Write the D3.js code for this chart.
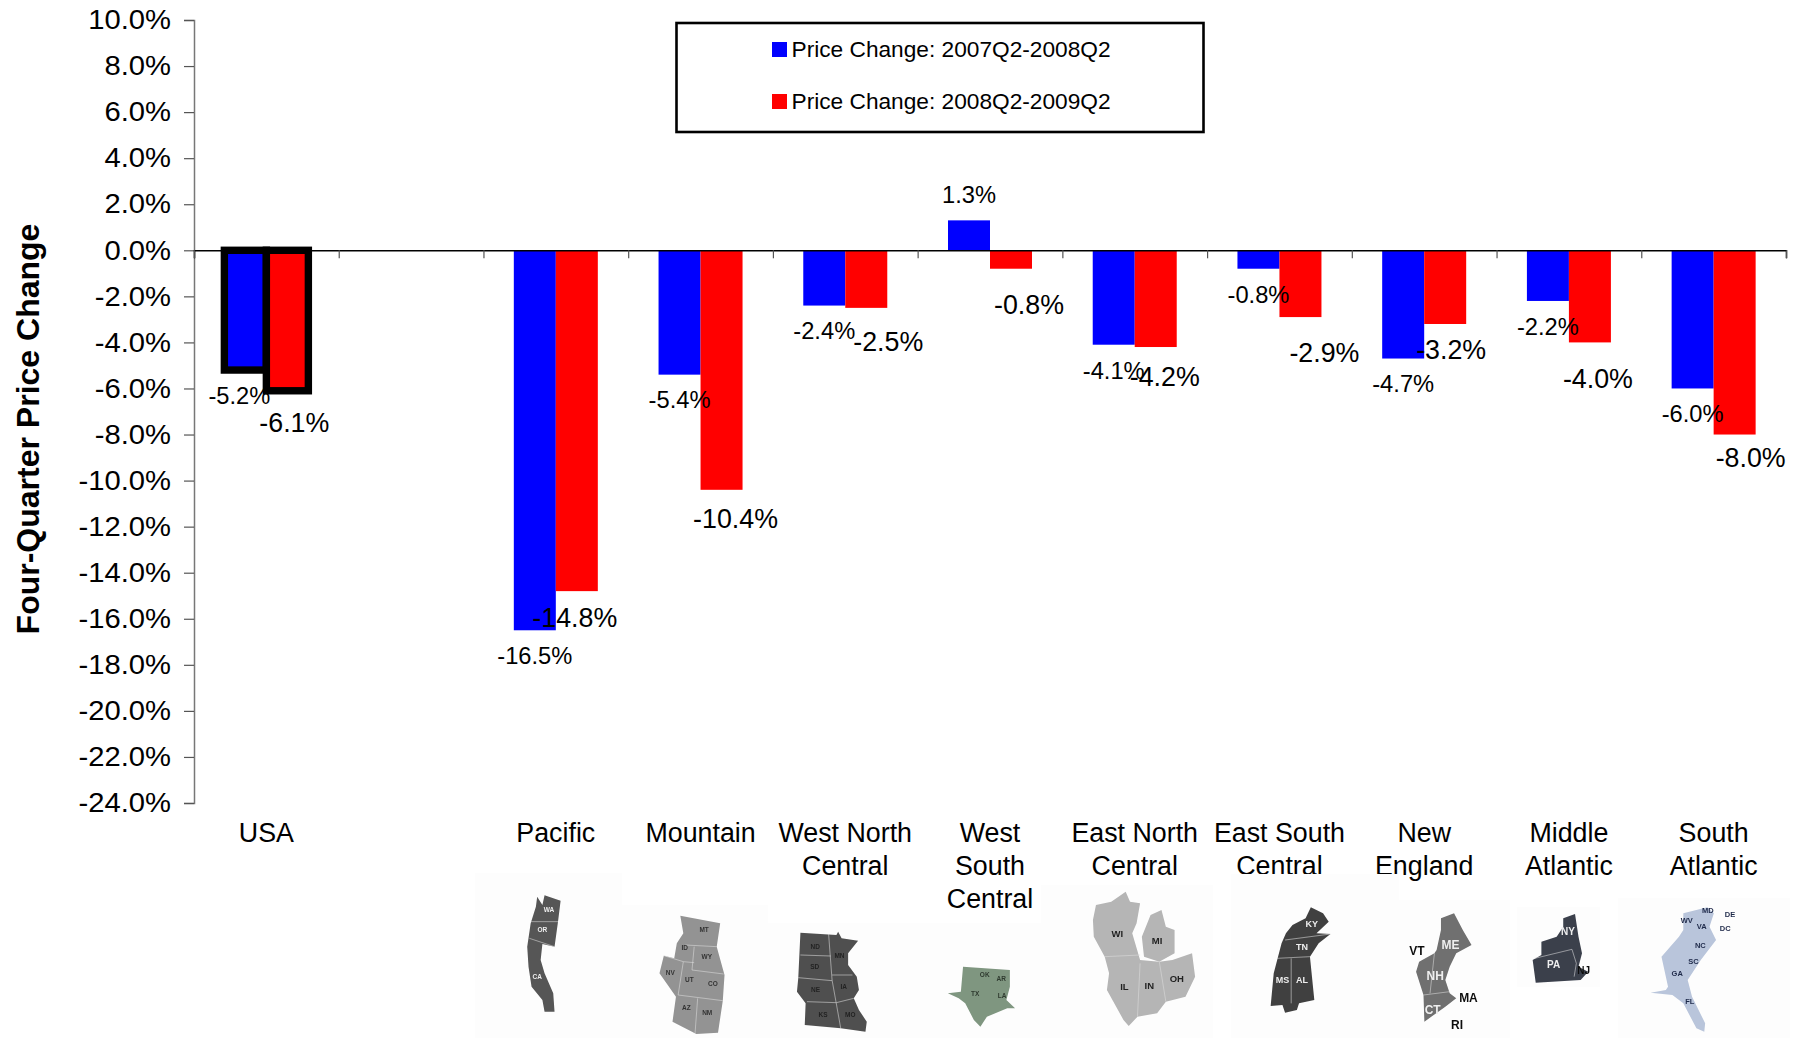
<!DOCTYPE html>
<html>
<head>
<meta charset="utf-8">
<title>Four-Quarter Price Change</title>
<script src="https://cdn.jsdelivr.net/npm/d3@7"></script>
<style>
  html, body { margin: 0; padding: 0; background: #fff; }
  svg { display: block; font-family: "Liberation Sans", Arial, sans-serif; }
</style>
</head>
<body>
<svg id="chart" width="1801" height="1038"></svg>
<script>
// chart values
var regions = ["USA", "", "Pacific", "Mountain", "West North Central", "West South Central",
  "East North Central", "East South Central", "New England", "Middle Atlantic", "South Atlantic"]
var regionLines = [["USA"], [], ["Pacific"], ["Mountain"], ["West North", "Central"], ["West", "South", "Central"],
  ["East North", "Central"], ["East South", "Central"], ["New", "England"], ["Middle", "Atlantic"], ["South", "Atlantic"]]
var change0708 = [-5.2, null, -16.5, -5.4, -2.4, 1.3, -4.1, -0.8, -4.7, -2.2, -6.0]
var change0809 = [-6.1, null, -14.8, -10.4, -2.5, -0.8, -4.2, -2.9, -3.2, -4.0, -8.0]
var seriesNames = ["Price Change: 2007Q2-2008Q2", "Price Change: 2008Q2-2009Q2"]
var seriesColors = ["#0000ff", "#ff0000"]
var yTicks = d3.range(-24, 10.1, 2)

// hand nudges for the data labels, same order as regions
var blueNudge = [-6, 0, 0, 0, 0, 0, 0, 0, 0, 0, 0]
var redNudge = [[7, 32], [0, 0], [-2, 26], [14, 29], [22, 34], [18, 36], [9, 30], [24, 36], [6, 26], [8, 36], [16, 23]]

var dimensions = {
  width: 1801,
  height: 1038,
  left: 194,
  right: 1786,
  top: 20,
  bottom: 803
}

var pct = v => v.toFixed(1) + "%"

var svg = d3.select("#chart")

var xSlots = d3.scaleLinear().domain([0, 11]).range([dimensions.left, dimensions.right])
var xBand = d3.scaleBand().domain(d3.range(regions.length)).range([dimensions.left, dimensions.right])
var yScale = d3.scaleLinear().domain([10, -24]).range([dimensions.top, dimensions.bottom])
var barW = 42

var tableRows = regions.map((r, i) => ({ i: i, region: r, a: change0708[i], b: change0809[i] }))
  .filter(d => d.a !== null)

// faint image backgrounds behind each little map
var mapPanels = [
  [475, 873, 147, 165], [622, 905, 146, 133], [767, 923, 145, 115], [911, 923, 130, 115],
  [1041, 885, 172, 153], [1231, 874, 168, 164], [1399, 900, 111, 138], [1517, 907, 83, 80], [1618, 898, 172, 140]
]

// y axis
var yAxisGen = d3.axisLeft(yScale).tickValues(yTicks).tickSize(10).tickPadding(14)
  .tickFormat(pct)
var yAxis = svg.append("g")
  .attr("transform", `translate(${dimensions.left},0)`)
  .call(yAxisGen)
yAxis.select(".domain").attr("stroke", "#777").attr("stroke-width", 1.5)
yAxis.selectAll(".tick line").attr("stroke", "#555").attr("stroke-width", 1.2)
// the original tick text is a bit wider than it is tall
yAxis.selectAll("text")
  .attr("font-size", 27.3)
  .attr("fill", "#000")
  .attr("font-family", "Liberation Sans")
  .attr("x", -23 / 1.07)
  .attr("transform", "scale(1.07,1)")

svg.append("text")
  .attr("transform", "translate(38.5,429) rotate(-90)")
  .attr("text-anchor", "middle")
  .attr("font-size", 32)
  .attr("font-weight", "bold")
  .text("Four-Quarter Price Change")

// bars
var barGroup = svg.append("g")
var drawBars = function (acc, color, off) {
  barGroup.append("g")
    .selectAll("rect")
    .data(tableRows)
    .enter()
    .append("rect")
    .attr("x", d => xBand(d.i) + xBand.bandwidth() / 2 + off)
    .attr("y", d => yScale(Math.max(0, acc(d))))
    .attr("width", barW)
    .attr("height", d => Math.abs(yScale(acc(d)) - yScale(0)))
    .attr("fill", color)
    .attr("stroke", d => d.region === "USA" ? "#000" : "none")
    .attr("stroke-width", 7.4)
}
drawBars(d => d.a, seriesColors[0], -barW)
drawBars(d => d.b, seriesColors[1], 0)

// zero line with the slot ticks under it
var xAxisGen = d3.axisBottom(xSlots).tickValues(d3.range(0, 12)).tickSize(8).tickFormat("")
var xAxis = svg.append("g")
  .attr("transform", `translate(0,${yScale(0)})`)
  .call(xAxisGen)
xAxis.select(".domain").attr("stroke", "#000").attr("stroke-width", 1.5)
xAxis.selectAll(".tick line").attr("stroke", "#555").attr("stroke-width", 1.2)

// data labels
svg.append("g")
  .selectAll("text")
  .data(tableRows)
  .enter()
  .append("text")
  .attr("x", d => xBand(d.i) + xBand.bandwidth() / 2 - barW / 2 + blueNudge[d.i])
  .attr("y", d => yScale(d.a) + (d.a < 0 ? 25.5 : -26))
  .attr("dy", "0.35em")
  .attr("text-anchor", "middle")
  .attr("font-size", 23.7)
  .text(d => pct(d.a))

svg.append("g")
  .selectAll("text")
  .data(tableRows)
  .enter()
  .append("text")
  .attr("x", d => xBand(d.i) + xBand.bandwidth() / 2 + barW / 2 + redNudge[d.i][0])
  .attr("y", d => yScale(d.b) + redNudge[d.i][1])
  .attr("dy", "0.35em")
  .attr("text-anchor", "middle")
  .attr("font-size", 26.8)
  .text(d => pct(d.b))

// category labels
var catLabels = svg.append("g")
  .selectAll("text")
  .data(regionLines.map((lines, i) => ({ i: i, lines: lines })))
  .enter()
  .append("text")
  .attr("text-anchor", "middle")
  .attr("font-size", 26.8)
catLabels.selectAll("tspan")
  .data(d => d.lines.map((t, n) => ({ t: t, n: n, i: d.i })))
  .enter()
  .append("tspan")
  .attr("x", d => xBand(d.i) + xBand.bandwidth() / 2)
  .attr("y", d => 842 + d.n * 33)
  .text(d => d.t)

// the panels go over the category text, in the original they clip the last line a little
svg.append("g")
  .selectAll("rect")
  .data(mapPanels)
  .enter()
  .append("rect")
  .attr("x", d => d[0])
  .attr("y", d => d[1])
  .attr("width", d => d[2])
  .attr("height", d => d[3])
  .attr("fill", "#fdfdfd")

// legend
svg.append("rect")
  .attr("x", 676.5).attr("y", 23)
  .attr("width", 527).attr("height", 109)
  .attr("fill", "#fff").attr("stroke", "#000").attr("stroke-width", 2.6)

var legendRows = svg.append("g")
  .selectAll("g")
  .data(seriesNames)
  .enter()
  .append("g")
  .attr("transform", (d, i) => `translate(772,${42 + i * 52})`)
legendRows.append("rect")
  .attr("width", 15).attr("height", 15)
  .attr("fill", (d, i) => seriesColors[i])
legendRows.append("text")
  .attr("x", 19.5).attr("y", 7)
  .attr("dy", "0.35em")
  .attr("font-size", 22.7)
  .text(d => d)

// little region maps. crop A and B are just two reading grids
var gridA = p => [460 + p[0] / 2.306, 790 + p[1] / 3]
var gridB = p => [1120 + p[0] / 2.29, 790 + p[1] / 3]

var regionMaps = [
  { grid: gridA, fill: "#565656", ink: "#eee", size: 6.5,
    shape: [[[178,320],[190,345],[195,316],[232,332],[226,395],[218,470],[190,462],[186,510],[195,550],[215,610],[218,665],[195,665],[190,630],[165,590],[158,530],[155,470],[163,400],[175,350]]],
    seams: [[[163,395],[226,395]], [[160,445],[218,470]]],
    names: [["WA",205,358],["OR",190,420],["CA",178,560]] },
  { grid: gridA, fill: "#939393", ink: "#333", size: 6.5,
    shape: [[[508,377],[600,400],[592,470],[610,555],[606,632],[595,728],[545,732],[490,695],[498,620],[460,550],[470,497],[494,505],[500,460],[515,430]]],
    seams: [[[520,465],[592,470]], [[540,470],[535,540],[608,552]], [[470,497],[515,515],[503,615],[606,632]], [[515,515],[540,518]], [[548,625],[542,730]]],
    names: [["MT",563,418],["ID",518,474],["WY",569,501],["NV",485,547],["UT",529,569],["CO",583,580],["AZ",522,652],["NM",570,668]] },
  { grid: gridA, fill: "#505050", ink: "#222", size: 6.5,
    shape: [[[785,428],[868,435],[872,425],[880,445],[918,452],[895,490],[895,525],[915,560],[920,600],[908,625],[920,660],[938,695],[935,725],[878,715],[795,705],[797,640],[777,605],[780,565]]],
    seams: [[[785,495],[855,498]], [[780,563],[858,572]], [[800,635],[868,638],[908,625]], [[850,432],[858,570],[878,715]], [[858,555],[905,555]]],
    names: [["ND",819,470],["SD",818,530],["NE",820,600],["KS",837,675],["MN",875,497],["IA",885,590],["MO",900,675]] },
  { grid: gridA, fill: "#7f9680", ink: "#2f3a2f", size: 6.5,
    shape: [[[1160,530],[1268,540],[1268,590],[1260,630],[1280,655],[1262,655],[1215,680],[1200,710],[1185,690],[1165,640],[1150,625],[1125,610],[1155,605]]],
    seams: [],
    names: [["OK",1210,555],["AR",1248,565],["TX",1188,610],["LA",1250,617]] },
  { grid: gridB, fill: "#b5b5b5", ink: "#222", size: 9.5,
    shape: [[[13,305],[23,335],[46,340],[38,400],[28,430],[46,510],[90,515],[120,510],[165,490],[172,560],[150,620],[105,635],[85,670],[40,680],[20,708],[8,690],[-30,600],[-25,550],[-35,500],[-60,440],[-62,390],[-55,345],[-20,335]],
      [[55,500],[50,440],[70,375],[95,360],[105,410],[125,420],[125,490],[90,515]]],
    seams: [[[-35,500],[46,495]], [[46,520],[40,680]], [[90,515],[105,635]]],
    names: [["WI",-6,431],["IL",10,590],["MI",85,453],["IN",67,587],["OH",130,565]] },
  { grid: gridB, fill: "#414141", ink: "#eee", size: 9,
    shape: [[[437,352],[465,370],[478,395],[450,430],[482,432],[455,460],[435,500],[445,630],[410,640],[405,660],[378,668],[372,645],[345,648],[352,550],[370,460],[380,430],[395,405],[425,385]]],
    seams: [[[378,450],[482,432]], [[360,505],[435,500]], [[392,505],[392,640]]],
    names: [["KY",439,403],["TN",417,471],["MS",372,570],["AL",417,570]] },
  { grid: gridB, fill: "#6f6f6f", ink: "#eee", size: 12,
    shape: [[[735,385],[765,370],[785,420],[805,465],[770,490],[755,530],[745,570],[755,610],[770,625],[745,650],[697,695],[695,615],[678,545],[685,515],[720,490],[725,480],[735,420]]],
    seams: [[[720,490],[710,610]], [[695,615],[755,605]]],
    names: [["ME",757,463],["NH",722,558],["CT",716,658]] },
  { grid: gridB, fill: "#3b404c", ink: "#eee", size: 10,
    shape: [[[1015,385],[1042,372],[1050,440],[1058,490],[1050,530],[1072,545],[1055,570],[952,578],[945,510],[965,495],[965,455],[1000,440],[1015,410]]],
    seams: [[[950,505],[1035,478],[1045,520],[1040,560]]],
    names: [["NY",1026,423],["PA",993,523]] },
  { grid: gridB, fill: "#b9c5db", ink: "#1f2a4a", size: 7.5,
    shape: [[[1290,370],[1345,352],[1360,370],[1350,410],[1365,450],[1330,510],[1300,570],[1310,620],[1340,700],[1338,725],[1320,715],[1290,640],[1265,615],[1215,608],[1250,600],[1255,590],[1240,500],[1280,440],[1290,420]]],
    seams: [],
    names: [["MD",1346,360],["WV",1298,390],["VA",1332,408],["NC",1329,466],["SC",1313,515],["GA",1276,551],["FL",1305,635],["DE",1397,372],["DC",1386,415]] }
]
// names that sit outside the shapes, in black
var looseNames = [["VT",680,482,12],["MA",798,623,12],["RI",772,705,12],["NJ",1062,542,10]]

var defs = svg.append("defs")
defs.append("filter").attr("id", "soft").append("feGaussianBlur").attr("stdDeviation", 0.55)

var lineGen = d3.line()
var mapLayer = svg.append("g").attr("filter", "url(#soft)")

regionMaps.forEach(function (m) {
  var g = mapLayer.append("g")
  g.selectAll("path.shape")
    .data(m.shape)
    .enter()
    .append("path")
    .attr("class", "shape")
    .attr("d", d => lineGen(d.map(m.grid)) + "Z")
    .attr("fill", m.fill)
  g.selectAll("path.seam")
    .data(m.seams)
    .enter()
    .append("path")
    .attr("class", "seam")
    .attr("d", d => lineGen(d.map(m.grid)))
    .attr("fill", "none")
    .attr("stroke", "#ddd")
    .attr("stroke-width", 0.8)
    .attr("opacity", 0.7)
  g.selectAll("text")
    .data(m.names)
    .enter()
    .append("text")
    .attr("x", d => m.grid([d[1], d[2]])[0])
    .attr("y", d => m.grid([d[1], d[2]])[1])
    .attr("dy", "0.35em")
    .attr("text-anchor", "middle")
    .attr("font-size", m.size)
    .attr("font-weight", "bold")
    .attr("fill", m.ink)
    .text(d => d[0])
})

mapLayer.append("g")
  .selectAll("text")
  .data(looseNames)
  .enter()
  .append("text")
  .attr("x", d => gridB([d[1], d[2]])[0])
  .attr("y", d => gridB([d[1], d[2]])[1])
  .attr("dy", "0.35em")
  .attr("text-anchor", "middle")
  .attr("font-size", d => d[3])
  .attr("font-weight", "bold")
  .attr("fill", "#111")
  .text(d => d[0])
</script>
</body>
</html>
